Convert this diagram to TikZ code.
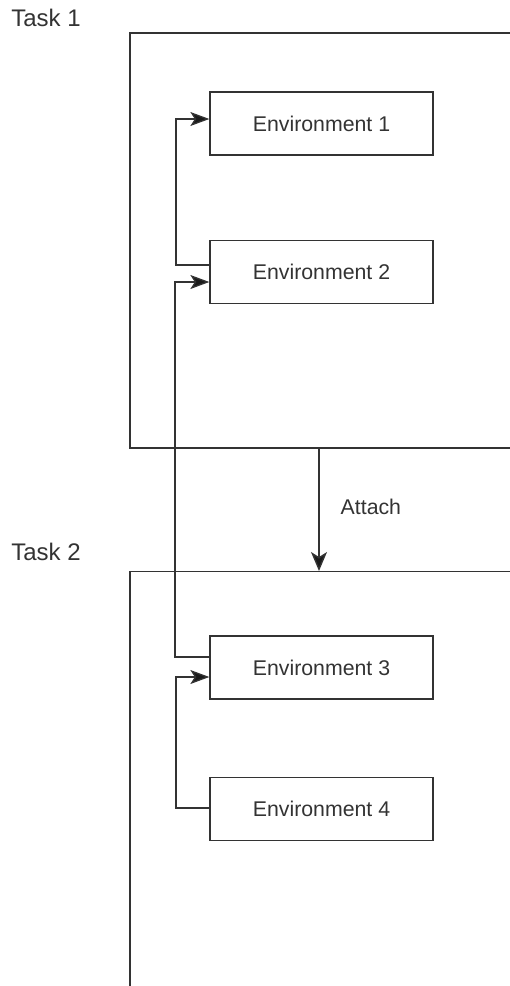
\documentclass[tikz,border=0pt]{standalone}
\usepackage{fontspec}
\setmainfont{Liberation Sans}
\usetikzlibrary{arrows.meta,calc}
\definecolor{ink}{HTML}{333333}
\definecolor{tip}{HTML}{1A1A1A}
\tikzset{
  envbox/.style={draw=ink, line width=1.3pt, minimum width=223pt, minimum height=63pt,
    inner sep=0pt, font=\fontsize{21.3}{21.3}\selectfont, text=ink},
  link/.style={draw=ink, line width=1.3pt, -{Stealth[length=19pt,width=14pt,inset=4.5pt,fill=tip]}},
  frame/.style={draw=ink, line width=1.4pt},
  tasklabel/.style={font=\fontsize{24}{24}\selectfont, text=ink, inner sep=0pt},
}
\begin{document}
\begin{tikzpicture}[x=1pt,y=-1pt]
\useasboundingbox (0,0) rectangle (510,986);
% task frames
\draw[frame] (510,33) -- (130,33) -- (130,448) -- (510,448);
\draw[frame] (510,571.5) -- (130,571.5) -- (130,986);
\node[tasklabel] (task1) at (46,18) {Task 1};
\node[tasklabel] (task2) at (46,552) {Task 2};
% environments
\node[envbox] (e1) at (321.5,123.5) {Environment 1};
\node[envbox] (e2) at (321.5,272) {Environment 2};
\node[envbox] (e3) at (321.5,667.5) {Environment 3};
\node[envbox] (e4) at (321.5,809) {Environment 4};
% connectors
\draw[link] ([yshift=7pt]e2.west) -| (176,119) -- ([yshift=4.5pt]e1.west);
\draw[link] ([yshift=10.5pt]e3.west) -| (175,282) -- ([yshift=-10pt]e2.west);
\draw[link] ([yshift=1pt]e4.west) -| (176,677) -- ([yshift=-9.5pt]e3.west);
% attach
\coordinate (t1b) at (319,449);
\coordinate (t2t) at (319,571);
\draw[draw=ink, line width=1.4pt, -{Stealth[length=19pt,width=16pt,inset=5pt,fill=tip]}] (t1b) -- (t2t)
  node[midway, right=21pt, font=\fontsize{21.3}{21.3}\selectfont, text=ink, inner sep=0pt, yshift=3pt] (attach) {Attach};
\end{tikzpicture}
\end{document}
